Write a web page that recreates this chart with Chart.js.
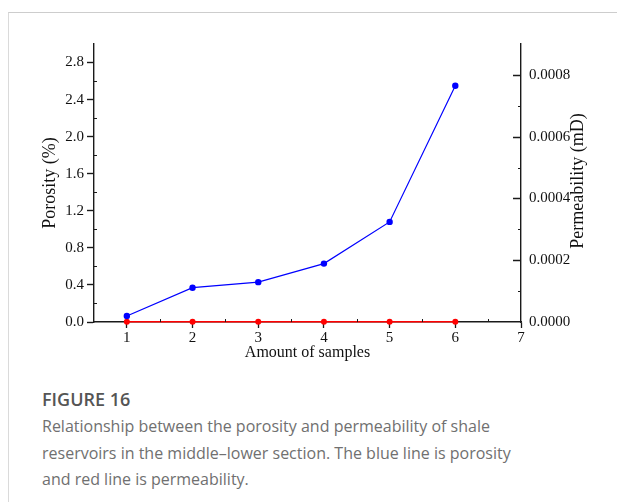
<!DOCTYPE html>
<html>
<head>
<meta charset="utf-8">
<script src="https://cdn.jsdelivr.net/npm/chart.js@4.4.1/dist/chart.umd.min.js"></script>
<style>
  html, body { margin: 0; padding: 0; background: #fff; }
  #wrap { position: relative; width: 617px; height: 502px; overflow: hidden; background: #fff; }
  #frame { position: absolute; left: 8px; top: 12px; right: -2px; bottom: -2px;
           border-top: 1px solid #cdcdcd; border-left: 1px solid #dadada; }
  #chartBox { position: absolute; left: 0; top: 0; width: 617px; height: 370px; }
  #cap { position: absolute; left: 42px; top: 389px; width: 560px; font-family: 'Open Sans', sans-serif; }
  #cap .fig { font-size: 18px; font-weight: 600; color: #555; line-height: 21px; }
  #cap .txt { font-size: 16px; color: #707070; line-height: 26.5px; margin-top: 3px; white-space: nowrap; }
</style>
</head>
<body>
<div id="wrap">
  <div id="frame"></div>
  <div id="chartBox"><canvas id="c" width="617" height="370"></canvas></div>
  <div id="cap">
    <div class="fig">FIGURE 16</div>
    <div class="txt">Relationship between the porosity and permeability of shale<br>reservoirs in the middle–lower section. The blue line is porosity<br>and red line is permeability.</div>
  </div>
</div>
<script>
// Sample numbers along the x axis
const sampleNo = [1, 2, 3, 4, 5, 6];
// Porosity (%) per sample
const porosity = [0.065, 0.37, 0.43, 0.63, 1.08, 2.55];
// Permeability (mD) per sample (all close to zero)
const permeability = [0.000001, 0.000001, 0.000001, 0.000001, 0.000001, 0.000001];

// Tick values
const sampleTicks = [1, 2, 3, 4, 5, 6, 7];
const sampleMinor = [1.5, 2.5, 3.5, 4.5, 5.5, 6.5];
const porosityTicks = [0, 0.4, 0.8, 1.2, 1.6, 2.0, 2.4, 2.8];
const porosityMinor = [0.2, 0.6, 1.0, 1.4, 1.8, 2.2, 2.6];
const permTicks = [0, 0.0002, 0.0004, 0.0006, 0.0008];
const permMinor = [0.0001, 0.0003, 0.0005, 0.0007];

const AXIS_COLOR = '#1a1a1a';
const SERIF = "'Liberation Serif', 'Times New Roman', serif";

// Minor ticks, inward ticks on the right axis, and the right axis title
const axisExtras = {
  id: 'axisExtras',
  afterDraw(chart) {
    const ctx = chart.ctx;
    const { x, y, y1 } = chart.scales;
    const area = chart.chartArea;
    ctx.save();
    ctx.strokeStyle = AXIS_COLOR;
    ctx.lineWidth = 1;
    ctx.beginPath();
    porosityMinor.forEach(v => {
      const py = Math.round(y.getPixelForValue(v)) + 0.5;
      ctx.moveTo(area.left, py); ctx.lineTo(area.left + 3, py);
    });
    permMinor.forEach(v => {
      const py = Math.round(y1.getPixelForValue(v)) + 0.5;
      ctx.moveTo(area.right, py); ctx.lineTo(area.right - 3, py);
    });
    sampleMinor.forEach(v => {
      const px = Math.round(x.getPixelForValue(v)) + 0.5;
      ctx.moveTo(px, area.bottom); ctx.lineTo(px, area.bottom - 3);
    });
    ctx.stroke();
    ctx.lineWidth = 1.6;
    ctx.beginPath();
    permTicks.forEach(v => {
      if (v === 0) return;
      const py = Math.round(y1.getPixelForValue(v)) + 0.5;
      ctx.moveTo(area.right, py); ctx.lineTo(area.right - 8, py);
    });
    ctx.stroke();
    // right axis title, reading bottom to top
    ctx.fillStyle = '#111';
    ctx.font = "18px " + SERIF;
    ctx.textAlign = 'center';
    ctx.textBaseline = 'middle';
    ctx.translate(578, (area.top + area.bottom) / 2 - 2);
    ctx.rotate(-Math.PI / 2);
    ctx.fillText('Permeability (mD)', 0, 0);
    ctx.restore();
  }
};

new Chart(document.getElementById('c'), {
  type: 'line',
  data: {
    datasets: [
      {
        label: 'Porosity',
        data: sampleNo.map((s, i) => ({ x: s, y: porosity[i] })),
        yAxisID: 'y',
        borderColor: '#0000ff',
        backgroundColor: '#0000ff',
        borderWidth: 1.2,
        pointRadius: 3.2,
        pointBorderWidth: 0,
        tension: 0,
        clip: false
      },
      {
        label: 'Permeability',
        data: sampleNo.map((s, i) => ({ x: s, y: permeability[i] })),
        yAxisID: 'y1',
        borderColor: '#ff0000',
        backgroundColor: '#ff0000',
        borderWidth: 1.4,
        pointRadius: 3,
        pointBorderWidth: 0,
        tension: 0,
        clip: false
      }
    ]
  },
  options: {
    responsive: false,
    animation: false,
    devicePixelRatio: 1,
    layout: { padding: { left: 0, right: 0, top: 44, bottom: 0 } },
    plugins: { legend: { display: false }, tooltip: { enabled: false } },
    scales: {
      x: {
        type: 'linear',
        position: 'bottom',
        min: 0.5,
        max: 7,
        afterBuildTicks: s => { s.ticks = sampleTicks.map(v => ({ value: v })); },
        afterFit: s => { s.height = 48; },
        ticks: { font: { family: SERIF, size: 15 }, color: '#111', padding: 1, maxRotation: 0,
                 callback: v => String(v) },
        grid: { drawOnChartArea: false, drawTicks: true, tickLength: 6, tickColor: AXIS_COLOR, tickWidth: 1.3 },
        border: { display: true, color: AXIS_COLOR, width: 1.4 },
        title: { display: true, text: 'Amount of samples', color: '#111',
                 font: { family: SERIF, size: 16 }, padding: { top: 0, bottom: 8 } }
      },
      y: {
        type: 'linear',
        position: 'left',
        min: 0,
        max: 3.0,
        afterBuildTicks: s => { s.ticks = porosityTicks.map(v => ({ value: v })); },
        afterFit: s => { s.width = 94; },
        ticks: { font: { family: SERIF, size: 15 }, color: '#111', padding: 3,
                 callback: v => Number(v).toFixed(1) },
        grid: { drawOnChartArea: false, drawTicks: true, tickLength: 7, tickColor: AXIS_COLOR, tickWidth: 1.4 },
        border: { display: true, color: AXIS_COLOR, width: 1.4 },
        title: { display: true, text: 'Porosity (%)', color: '#111',
                 font: { family: SERIF, size: 18 }, padding: { top: 39, bottom: 0 } }
      },
      y1: {
        type: 'linear',
        position: 'right',
        min: 0,
        max: 0.0009,
        afterBuildTicks: s => { s.ticks = permTicks.map(v => ({ value: v })); },
        afterFit: s => { s.width = 96; },
        ticks: { font: { family: SERIF, size: 15 }, color: '#111', padding: 8,
                 callback: v => Number(v).toFixed(4) },
        grid: { drawOnChartArea: false, drawTicks: false },
        border: { display: true, color: AXIS_COLOR, width: 1.4 }
      }
    }
  },
  plugins: [axisExtras]
});
</script>
</body>
</html>
